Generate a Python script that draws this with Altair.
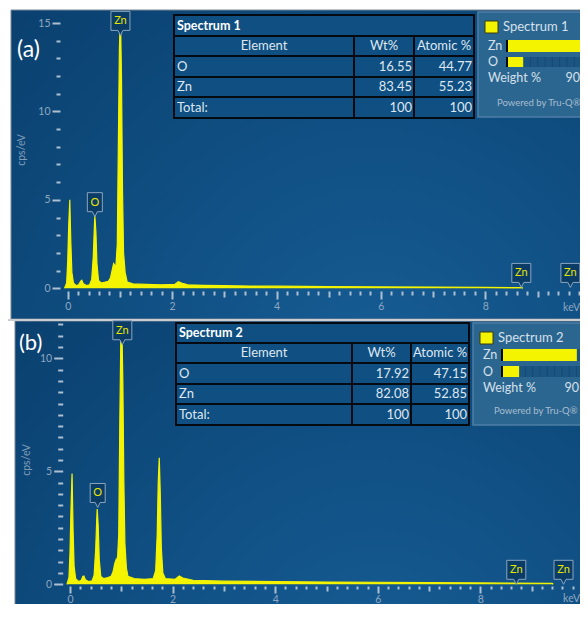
import altair as alt
import pandas as pd

# ---------------- values ----------------
# Panel (a) spectrum: energy (keV) and intensity (cps/eV)
a_kev = [-0.06, -0.02, 0.00, 0.02, 0.04, 0.06, 0.08, 0.11, 0.16, 0.21, 0.25, 0.27, 0.30, 0.36,
         0.42, 0.46, 0.49, 0.51, 0.52, 0.54, 0.56, 0.59, 0.64, 0.72, 0.78, 0.82, 0.85, 0.88,
         0.90, 0.92, 0.95, 0.97, 0.99, 1.01, 1.03, 1.05, 1.07, 1.10, 1.14, 1.25, 1.50, 1.80,
         2.05, 2.12, 2.18, 2.30, 2.60, 3.00, 3.50, 4.00, 5.00, 6.00, 7.00, 8.00, 8.70, 8.72]
a_cps = [0.0, 0.3, 1.5, 3.6, 5.0, 2.6, 0.9, 0.3, 0.15, 0.2, 0.4, 0.45, 0.25, 0.15,
         0.2, 0.5, 1.8, 3.4, 4.1, 3.2, 1.4, 0.45, 0.3, 0.35, 0.4, 0.6, 1.0, 1.4,
         1.3, 1.1, 2.5, 8.0, 13.5, 15.6, 12.0, 5.5, 2.0, 0.9, 0.35, 0.25, 0.22, 0.2,
         0.22, 0.37, 0.3, 0.2, 0.17, 0.15, 0.13, 0.12, 0.1, 0.08, 0.07, 0.05, 0.04, 0.0]

# Panel (b) spectrum
b_kev = [-0.06, -0.02, 0.00, 0.02, 0.04, 0.06, 0.08, 0.11, 0.17, 0.22, 0.25, 0.27, 0.30, 0.36,
         0.43, 0.47, 0.50, 0.52, 0.53, 0.55, 0.57, 0.60, 0.66, 0.74, 0.80, 0.84, 0.87, 0.90,
         0.92, 0.95, 0.97, 0.99, 1.01, 1.03, 1.05, 1.07, 1.10, 1.13, 1.25, 1.45, 1.62, 1.67,
         1.70, 1.72, 1.74, 1.76, 1.78, 1.81, 1.86, 2.05, 2.13, 2.20, 2.40, 3.00, 4.00, 5.00,
         6.00, 7.00, 8.00, 9.40, 9.42]
b_cps = [0.0, 0.3, 1.4, 3.4, 4.9, 2.4, 0.8, 0.25, 0.12, 0.18, 0.35, 0.37, 0.2, 0.12,
         0.15, 0.4, 1.5, 2.8, 3.33, 2.6, 1.1, 0.35, 0.25, 0.3, 0.35, 0.55, 0.9, 1.1,
         0.85, 2.2, 7.0, 10.8, 11.6, 9.0, 4.5, 1.8, 0.7, 0.35, 0.25, 0.22, 0.25, 0.6,
         2.2, 4.5, 5.6, 4.0, 1.6, 0.5, 0.25, 0.22, 0.37, 0.28, 0.18, 0.14, 0.12, 0.10,
         0.09, 0.07, 0.06, 0.04, 0.0]

# Peak markers (element, keV, cps/eV at the marker tip)
a_lab_el = ["O", "Zn", "Zn", "Zn"]
a_lab_kev = [0.52, 1.01, 8.69, 9.63]
a_lab_cps = [4.05, 14.3, 0.05, 0.05]
b_lab_el = ["O", "Zn", "Zn", "Zn"]
b_lab_kev = [0.54, 1.02, 8.70, 9.62]
b_lab_cps = [3.4, 10.6, 0.0, 0.0]

# Quantification tables
elements = ["O", "Zn"]
a_wt = [16.55, 83.45]
a_at = [44.77, 55.23]
b_wt = [17.92, 82.08]
b_at = [47.15, 52.85]
total = 100
headers = ["Element", "Wt%", "Atomic %"]

# ---------------- styling ----------------
FONT = "Lato"
TICK = "#adc0d2"
LAB = "#8fa8c1"
YEL = "#f4f400"
CELL = "#0f4f82"
TXT = "#dfe7ef"

W, H = 572, 596          # whole chart, page coords 8..580 x 8..604
PX = alt.Scale(domain=[8, 8 + W], range=[0, W])
PY = alt.Scale(domain=[8, 8 + H], range=[0, H])

XA = alt.Scale(domain=[0, 10], range=[59.7, 581.7])
YA = alt.Scale(domain=[0, 15], range=[280.3, 15.0])
XB = alt.Scale(domain=[0, 10], range=[62.0, 575.0])
YB = alt.Scale(domain=[0, 11.5], range=[576.3, 316.4])

spec_a = pd.DataFrame({"kev": a_kev, "cps": a_cps})
spec_b = pd.DataFrame({"kev": b_kev, "cps": b_cps})
lab_a = pd.DataFrame({"el": a_lab_el, "kev": a_lab_kev, "cps": a_lab_cps})
lab_b = pd.DataFrame({"el": b_lab_el, "kev": b_lab_kev, "cps": b_lab_cps})

def fmt(v):
    return f"{v:g}"

# ---------------- layout helpers (pixel positions of the decorations) ----------------
rects = []
texts = []

def rect(x0, x1, y0, y1, fill, stroke="none", sw=0):
    rects.append(dict(x0=x0, x1=x1, y0=y0, y1=y1, fill=fill, st=stroke, sw=sw))

def text(t, x, y, al="left", w="normal", c=TXT, s=12.5):
    texts.append(dict(t=t, x=x, y=y, al=al, w=w, c=c, s=s))

def table(title, cols, rows, wt, at):
    rect(cols[0], cols[3], rows[0], rows[1], CELL, "#050a10", 2)
    for r in range(1, 5):
        for c in range(3):
            rect(cols[c], cols[c + 1], rows[r], rows[r + 1], CELL, "#050a10", 2)
    text(title, cols[0] + 3, (rows[0] + rows[1]) / 2, "left", "bold", "#ffffff", 12.5)
    for i, h in enumerate(headers):
        text(h, (cols[i] + cols[i + 1]) / 2, (rows[1] + rows[2]) / 2, "center", "normal", TXT, 13)
    names = elements + ["Total:"]
    wts = wt + [total]
    ats = at + [total]
    for r, (n, w_, a_) in enumerate(zip(names, wts, ats)):
        yc = (rows[r + 2] + rows[r + 3]) / 2
        text(n, cols[0] + 3, yc, "left", "normal", TXT, 13)
        text(fmt(w_), cols[2] - 2, yc, "right", "normal", TXT, 13)
        text(fmt(a_), cols[3] - 2, yc, "right", "normal", TXT, 13)

def legend_box(name, x0, y0, y1, bar_left, rows_y):
    rect(x0, 600, y0, y1, "#2b6691", "#4d7fa7", 1.5)
    rect(x0 + 7, x0 + 20, y0 + 9, y0 + 21, YEL, "#3a3a10", 1)
    text(name, x0 + 25, y0 + 15, "left", "normal", "#d6e0ea", 13)
    for (ya, yb) in rows_y:
        rect(bar_left, 600, ya, yb, "#1c5582")
        for k in range(1, 12):
            sx = bar_left + k * 7.3
            rect(sx, sx + 1, ya, yb, "#154a74")
        rect(bar_left - 2, bar_left, ya, yb, "#0a0a0a")
    text("Zn", x0 + 10, (rows_y[0][0] + rows_y[0][1]) / 2, "left", "normal", "#d6e0ea", 12.5)
    text("O", x0 + 10, (rows_y[1][0] + rows_y[1][1]) / 2, "left", "normal", "#d6e0ea", 12.5)
    text("Weight %", x0 + 10, rows_y[1][1] + 11, "left", "normal", "#d6e0ea", 12.5)

# panel backgrounds
panels = pd.DataFrame([
    dict(x0=11, x1=600, y0=10, y1=319),
    dict(x0=15, x1=600, y0=321, y1=630),
])
rect(8, 600, 319, 321, "#c9ccd0")

table("Spectrum 1", [174, 354, 414, 474], [15, 36, 56, 77, 97, 118], a_wt, a_at)
table("Spectrum 2", [176, 352, 411, 469], [323, 343, 363, 384, 404, 425], b_wt, b_at)
legend_box("Spectrum 1", 478, 12, 117, 508, [(40, 52), (57, 67)])
legend_box("Spectrum 2", 473, 323, 425, 503, [(349, 361), (366, 377)])
text("90", 580, 78, "right", "normal", "#d6e0ea", 12.5)
text("90", 579, 388, "right", "normal", "#d6e0ea", 12.5)
text("Powered by Tru-Q®", 497, 103, "left", "normal", "#aabdcf", 9.5)
text("Powered by Tru-Q®", 494, 411, "left", "normal", "#aabdcf", 9.5)
text("(a)", 17, 50, "left", "normal", "#ffffff", 23)
text("(b)", 19, 343, "left", "normal", "#ffffff", 22)
text("keV", 580, 308, "right", "normal", LAB, 10.5)
text("keV", 580, 599, "right", "normal", LAB, 10.5)

rects_df = pd.DataFrame(rects)
texts_df = pd.DataFrame(texts)

# legend weight bars (data-driven)
bars_a = pd.DataFrame({"el": elements[::-1], "wt": a_wt[::-1], "z": 0, "ya": [40, 57], "yb": [52, 67]})
bars_b = pd.DataFrame({"el": elements[::-1], "wt": b_wt[::-1], "z": 0, "ya": [349, 366], "yb": [361, 377]})
WA = alt.Scale(domain=[0, 100], range=[500, 592])
WB = alt.Scale(domain=[0, 100], range=[495, 585])

# ---------------- layers ----------------
bg = alt.Chart(panels).mark_rect(
    color=alt.RadialGradient(
        gradient="radial",
        stops=[alt.GradientStop(offset=0, color="#165d95"),
               alt.GradientStop(offset=1, color="#0a4170")],
        x1=0.62, y1=0.85, x2=0.62, y2=0.85, r1=0, r2=0.85),
    stroke="#7b8794", strokeWidth=1,
).encode(
    x=alt.X("x0:Q", scale=PX, axis=None), x2="x1:Q",
    y=alt.Y("y0:Q", scale=PY, axis=None), y2="y1:Q",
)

deco = alt.Chart(rects_df).mark_rect().encode(
    x=alt.X("x0:Q", scale=PX, axis=None), x2="x1:Q",
    y=alt.Y("y0:Q", scale=PY, axis=None), y2="y1:Q",
    fill=alt.Fill("fill:N", scale=None),
    stroke=alt.Stroke("st:N", scale=None),
    strokeWidth=alt.StrokeWidth("sw:Q", scale=None),
)

def bars_layer(df, ws):
    return alt.Chart(df).mark_rect(color=YEL).encode(
        x=alt.X("z:Q", scale=ws, axis=None), x2="wt:Q",
        y=alt.Y("ya:Q", scale=PY, axis=None), y2="yb:Q",
    )

def text_layer(al, w):
    return alt.Chart(texts_df).transform_filter(
        (alt.datum.al == al) & (alt.datum.w == w)
    ).mark_text(align=al, baseline="middle", font=FONT, fontWeight=w).encode(
        x=alt.X("x:Q", scale=PX, axis=None),
        y=alt.Y("y:Q", scale=PY, axis=None),
        text="t:N",
        color=alt.Color("c:N", scale=None),
        size=alt.Size("s:Q", scale=None),
    )

ytitle = alt.Chart(pd.DataFrame({"t": ["cps/eV", "cps/eV"], "x": [22, 27], "y": [150, 460]})).mark_text(
    angle=270, font=FONT, fontSize=10.5, color="#7f9cb8", baseline="middle", align="center"
).encode(
    x=alt.X("x:Q", scale=PX, axis=None), y=alt.Y("y:Q", scale=PY, axis=None), text="t:N"
)

ax_common = dict(domain=False, grid=False, title=None, tickColor=TICK, tickWidth=2,
                 labelColor=LAB, labelFont=FONT, labelFontSize=10.5, zindex=2,
                 labelFlush=False, labelOverlap=False)

def spectrum_layers(df, xs, ys, y_major, y_minor, y_off, y_tick, x_off, x_tick, x_pad):
    x_major = [0, 2, 4, 6, 8, 10]
    x_mid = [1, 3, 5, 7, 9]
    x_minor = [round(i * 0.2, 1) for i in range(51) if i % 5 != 0]
    area = alt.Chart(df).mark_area(color=YEL, opacity=1, line=False).encode(
        x=alt.X("kev:Q", scale=xs,
                axis=alt.Axis(orient="bottom", values=x_major, tickSize=x_tick, offset=x_off,
                              labelPadding=x_pad,
                              labelExpr="datum.value == 10 ? '' : datum.label", **ax_common)),
        y=alt.Y("cps:Q", scale=ys,
                axis=alt.Axis(orient="left", values=y_major, tickSize=y_tick, offset=y_off,
                              labelPadding=2, **ax_common)),
    )
    line = alt.Chart(df).mark_line(color=YEL, strokeWidth=1.2).encode(
        x=alt.X("kev:Q", scale=xs, axis=None), y=alt.Y("cps:Q", scale=ys, axis=None))
    minor_y = alt.Chart(df).mark_point(opacity=0).encode(
        x=alt.X("kev:Q", scale=xs, axis=None),
        y=alt.Y("cps:Q", scale=ys,
                axis=alt.Axis(orient="left", values=y_minor, tickSize=y_tick - 4, offset=y_off,
                              labels=False, **ax_common)),
    )
    mid_x = alt.Chart(df).mark_point(opacity=0).encode(
        x=alt.X("kev:Q", scale=xs,
                axis=alt.Axis(orient="bottom", values=x_mid, tickSize=x_tick - 2, offset=x_off,
                              labels=False, **ax_common)),
        y=alt.Y("cps:Q", scale=ys, axis=None),
    )
    minor_x = alt.Chart(df).mark_point(opacity=0).encode(
        x=alt.X("kev:Q", scale=xs,
                axis=alt.Axis(orient="bottom", values=x_minor, tickSize=x_tick - 4, offset=x_off,
                              labels=False, **ax_common)),
        y=alt.Y("cps:Q", scale=ys, axis=None),
    )
    return [area, line, minor_y, mid_x, minor_x]

PATH_ZN = "M-0.95,-2.4L0.95,-2.4L0.95,-0.5L0.25,-0.5L0,0L-0.25,-0.5L-0.95,-0.5Z"
PATH_O = "M-0.75,-2.4L0.75,-2.4L0.75,-0.5L0.25,-0.5L0,0L-0.25,-0.5L-0.75,-0.5Z"

def marker_layers(df, xs, ys):
    box = alt.Chart(df).mark_point(filled=True, fill="#0b3c66", stroke="#8aa5bf",
                                   strokeWidth=1, opacity=1, size=400).encode(
        x=alt.X("kev:Q", scale=xs, axis=None),
        y=alt.Y("cps:Q", scale=ys, axis=None),
        shape=alt.Shape("el:N", scale=alt.Scale(domain=["O", "Zn"], range=[PATH_O, PATH_ZN]),
                        legend=None),
    )
    lab = alt.Chart(df).mark_text(font=FONT, fontSize=11, color="#e6e600", dy=-14,
                                  baseline="middle", align="center").encode(
        x=alt.X("kev:Q", scale=xs, axis=None),
        y=alt.Y("cps:Q", scale=ys, axis=None),
        text="el:N",
    )
    return [box, lab]

layers = [bg, deco, bars_layer(bars_a, WA), bars_layer(bars_b, WB)]
layers += spectrum_layers(spec_a, XA, YA, [0, 5, 10, 15],
                          [v for v in range(1, 15) if v % 5 != 0],
                          -52, 8, (291 - 8) - H, 8, 2)
layers += spectrum_layers(spec_b, XB, YB, [0, 5, 10],
                          [v / 2 for v in range(1, 24) if v % 10 != 0],
                          -54.7, 9, (586 - 8) - H, 7, 1)
layers += marker_layers(lab_a, XA, YA)
layers += marker_layers(lab_b, XB, YB)
layers += [text_layer("left", "normal"), text_layer("left", "bold"),
           text_layer("center", "normal"), text_layer("right", "normal"), ytitle]

chart = alt.layer(*layers).resolve_scale(
    x="independent", y="independent"
).properties(
    width=W, height=H,
    autosize=alt.AutoSizeParams(type="none"),
    padding=0,
    background="#ffffff",
).configure_view(stroke=None)

chart.save("out.html", embed_options={"renderer": "svg", "actions": False})
